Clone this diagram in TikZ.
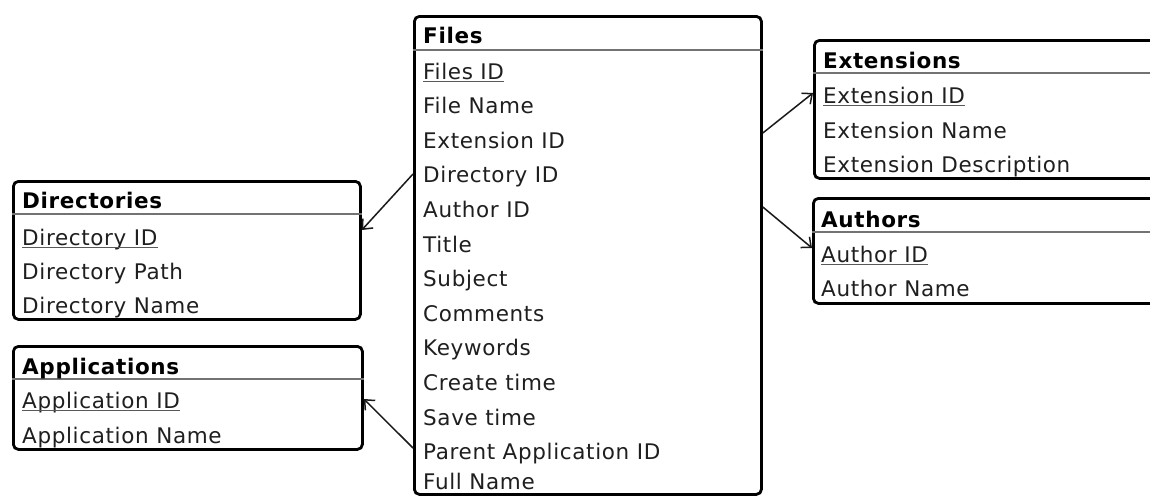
\documentclass[tikz,border=0pt]{standalone}
\usepackage{fontspec}
\setmainfont{DejaVu Sans}[LetterSpace=3]
\usetikzlibrary{arrows.meta}

\tikzset{
  entity/.style={draw=black, line width=2.8pt, rounded corners=5pt, inner sep=0pt,
                 anchor=north west, fill=white},
  sepline/.style={draw=black!55, line width=2.6pt},
  title/.style={anchor=base west, inner sep=0pt, font=\fontsize{21.5}{25}\selectfont\bfseries},
  attr/.style={anchor=base west, inner sep=0pt, text=black!88, font=\fontsize{21.5}{25}\selectfont},
  keyline/.style={draw=black!65, line width=1.4pt},
  link/.style={draw=black!90, line width=1.5pt, -{Straight Barb[length=8pt,width=14pt,line width=1.5pt]}},
}

\begin{document}
\begin{tikzpicture}[x=1pt,y=-1pt]
\useasboundingbox (0,0) rectangle (1150,498);
\clip (0,0) rectangle (1150,498);

% ---------- Files ----------
\node[entity, minimum width=347pt, minimum height=478pt] (files) at (413,15) {};
\draw[sepline] (files.north west |- 0,50) -- (files.north east |- 0,50);
\node[title] (files-t) at (423,43) {Files};
\node[attr] (f1) at (423,79) {Files ID};
\draw[keyline] ([yshift=-2.5pt]f1.base west) -- ([yshift=-2.5pt]f1.base east);
\foreach \txt [count=\i from 2] in {File Name, Extension ID, Directory ID, Author ID,
    Title, Subject, Comments, Keywords, Create time, Save time, Parent Application ID}
  \node[attr] (f\i) at (423,{79+(\i-1)*34.6}) {\txt};
\node[attr] (f13) at (423,489) {Full Name};

% ---------- Extensions ----------
\node[entity, minimum width=390pt, minimum height=138pt] (ext) at (813,39) {};
\draw[sepline] (ext.north west |- 0,73) -- (ext.north east |- 0,73);
\node[title] (ext-t) at (823,68) {Extensions};
\node[attr] (e1) at (823,103) {Extension ID};
\draw[keyline] ([yshift=-2.5pt]e1.base west) -- ([yshift=-2.5pt]e1.base east);
\node[attr] (e2) at (823,138) {Extension Name};
\node[attr] (e3) at (823,172) {Extension Description};

% ---------- Authors ----------
\node[entity, minimum width=390pt, minimum height=105pt] (auth) at (812,197) {};
\draw[sepline] (auth.north west |- 0,232) -- (auth.north east |- 0,232);
\node[title] (auth-t) at (821,227) {Authors};
\node[attr] (a1) at (821,262) {Author ID};
\draw[keyline] ([yshift=-2.5pt]a1.base west) -- ([yshift=-2.5pt]a1.base east);
\node[attr] (a2) at (821,296) {Author Name};

% ---------- Directories ----------
\node[entity, minimum width=347pt, minimum height=138pt] (dirs) at (12,180) {};
\draw[sepline] (dirs.north west |- 0,214) -- (dirs.north east |- 0,214);
\node[title] (dirs-t) at (22,208) {Directories};
\node[attr] (d1) at (22,245) {Directory ID};
\draw[keyline] ([yshift=-2.5pt]d1.base west) -- ([yshift=-2.5pt]d1.base east);
\node[attr] (d2) at (22,279) {Directory Path};
\node[attr] (d3) at (22,313) {Directory Name};

% ---------- Applications ----------
\node[entity, minimum width=349pt, minimum height=103pt] (apps) at (12,345) {};
\draw[sepline] (apps.north west |- 0,379) -- (apps.north east |- 0,379);
\node[title] (apps-t) at (22,374) {Applications};
\node[attr] (p1) at (22,408) {Application ID};
\draw[keyline] ([yshift=-2.5pt]p1.base west) -- ([yshift=-2.5pt]p1.base east);
\node[attr] (p2) at (22,443) {Application Name};

% ---------- Relations ----------
\draw[link] (files.west |- 0,174) -- (dirs.east |- 0,230);
\draw[link] (files.west |- 0,448) -- (apps.east |- 0,399);
\draw[link] (files.east |- 0,133) -- (ext.west |- 0,93);
\draw[link] (files.east |- 0,207) -- (auth.west |- 0,248);
\end{tikzpicture}
\end{document}
